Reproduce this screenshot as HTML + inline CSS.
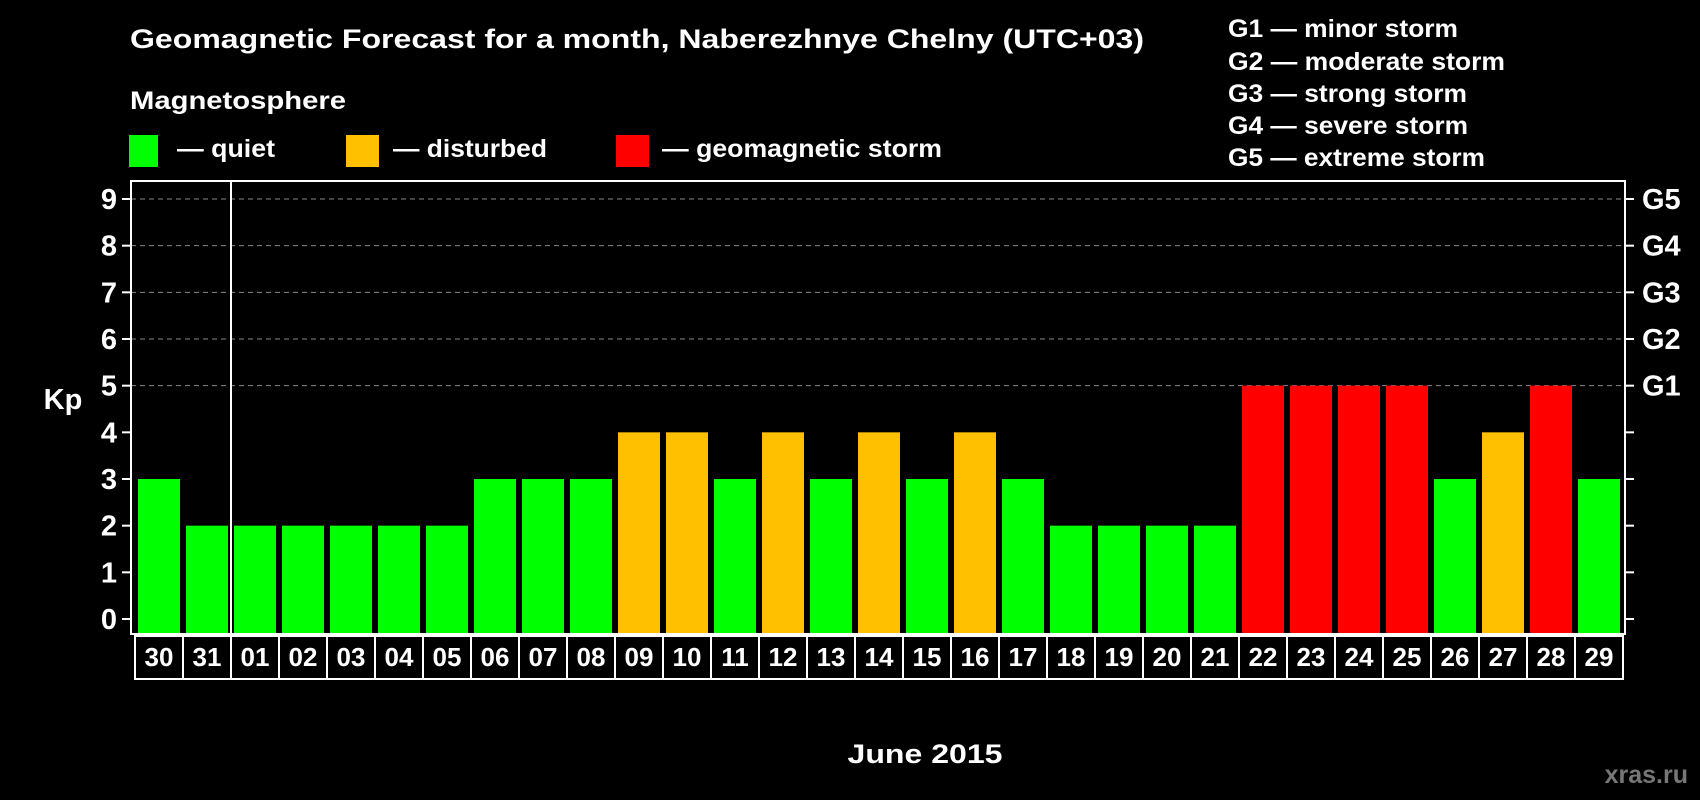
<!DOCTYPE html>
<html><head><meta charset="utf-8"><style>
html,body{margin:0;padding:0;background:#000;}
svg{display:block;font-family:"Liberation Sans",sans-serif;font-weight:bold;}
</style></head><body>
<svg id="chart" width="1700" height="800" viewBox="0 0 1700 800">
<text x="130" y="48" fill="#fff" font-size="27" textLength="1014" lengthAdjust="spacingAndGlyphs">Geomagnetic Forecast for a month, Naberezhnye Chelny (UTC+03)</text>
<text x="130" y="109" fill="#fff" font-size="25" textLength="216" lengthAdjust="spacingAndGlyphs">Magnetosphere</text>
<g><rect x="129" y="135" width="29" height="32" fill="#00ff00"/><text x="177" y="157" fill="#fff" font-size="25" textLength="98" lengthAdjust="spacingAndGlyphs">— quiet</text></g>
<g><rect x="346" y="135" width="33" height="32" fill="#ffc000"/><text x="393" y="157" fill="#fff" font-size="25" textLength="154" lengthAdjust="spacingAndGlyphs">— disturbed</text></g>
<g><rect x="616" y="135" width="33" height="32" fill="#ff0000"/><text x="662" y="157" fill="#fff" font-size="25" textLength="280" lengthAdjust="spacingAndGlyphs">— geomagnetic storm</text></g>
<g fill="#fff" font-size="25">
<text x="1228" y="37" textLength="230" lengthAdjust="spacingAndGlyphs">G1 — minor storm</text>
<text x="1228" y="70" textLength="277" lengthAdjust="spacingAndGlyphs">G2 — moderate storm</text>
<text x="1228" y="102" textLength="239" lengthAdjust="spacingAndGlyphs">G3 — strong storm</text>
<text x="1228" y="134" textLength="240" lengthAdjust="spacingAndGlyphs">G4 — severe storm</text>
<text x="1228" y="166" textLength="257" lengthAdjust="spacingAndGlyphs">G5 — extreme storm</text>
</g>
<text x="63" y="409" fill="#fff" font-size="29" text-anchor="middle">Kp</text>
<text x="925" y="763" fill="#fff" font-size="27" text-anchor="middle" textLength="155" lengthAdjust="spacingAndGlyphs">June 2015</text>
<text x="1688" y="783" fill="#777" font-size="25" text-anchor="end">xras.ru</text>
<g id="plot"></g>
</svg>
<script>
const days = ["30","31","01","02","03","04","05","06","07","08","09","10","11","12","13","14","15","16","17","18","19","20","21","22","23","24","25","26","27","28","29"];
const kpValues = [3,2,2,2,2,2,2,3,3,3,4,4,3,4,3,4,3,4,3,2,2,2,2,5,5,5,5,3,4,5,3];
const yTicks = [0,1,2,3,4,5,6,7,8,9];
const gLabels = ["G1","G2","G3","G4","G5"];
const gLevels = [5,6,7,8,9];

const NS="http://www.w3.org/2000/svg";
const plot=document.getElementById('plot');
const L=131,R=1625,T=181,B=634;
const y=v=>619-v*(420/9);
const x=i=>138+i*48;
const BW=42;
function mk(tag,attrs,parent){const e=document.createElementNS(NS,tag);for(const k in attrs)e.setAttribute(k,attrs[k]);(parent||plot).appendChild(e);return e;}
gLevels.forEach(v=>{
  const g=mk('line',{x1:L,x2:R,y1:y(v),y2:y(v),stroke:'#888','stroke-dasharray':'5,4','stroke-width':1});
  
  
});
kpValues.forEach((v,i)=>{
  const c=v>=5?'#ff0000':(v>=4?'#ffc000':'#00ff00');
  const b=mk('rect',{x:x(i),y:y(v),width:BW,height:y(0)+15-y(v),fill:c});
  
  
});
const f=mk('rect',{x:L,y:T,width:R-L,height:B-T,fill:'none',stroke:'#fff','stroke-width':2});


const dv=mk('line',{x1:x(2)-3,x2:x(2)-3,y1:T,y2:B,stroke:'#fff','stroke-width':2});


yTicks.forEach(v=>{
  const t=mk('line',{x1:L-9,x2:L,y1:y(v),y2:y(v),stroke:'#fff','stroke-width':2});
  
  
  const t2=mk('line',{x1:R,x2:R+9,y1:y(v),y2:y(v),stroke:'#fff','stroke-width':2});
  
  
  const lb=mk('text',{x:117,y:y(v)+10,fill:'#fff','font-size':29,'text-anchor':'end'});
  lb.textContent=v;
  
  
});
gLevels.forEach((v,i)=>{
  const lb=mk('text',{x:1642,y:y(v)+10,fill:'#fff','font-size':29});
  lb.textContent=gLabels[i];
  
  
});
days.forEach((d,i)=>{
  const bx=mk('rect',{x:x(i)-3,y:636,width:48,height:43,fill:'none',stroke:'#fff','stroke-width':2});
  
  
  const t=mk('text',{x:x(i)+BW/2,y:666,fill:'#fff','font-size':26,'text-anchor':'middle'});
  t.textContent=d;
  
  
});
</script>
</body></html>
